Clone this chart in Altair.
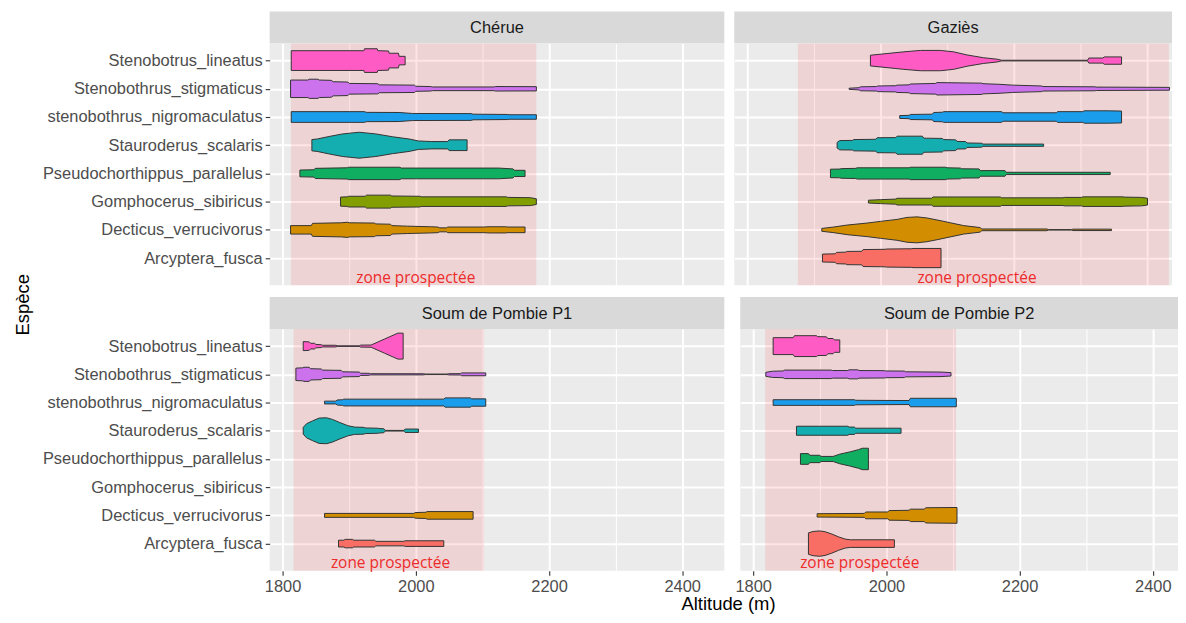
import altair as alt
import pandas as pd

# ---------------- data ----------------
SPECIES = [
    "Stenobotrus_lineatus",
    "Stenobothrus_stigmaticus",
    "stenobothrus_nigromaculatus",
    "Stauroderus_scalaris",
    "Pseudochorthippus_parallelus",
    "Gomphocerus_sibiricus",
    "Decticus_verrucivorus",
    "Arcyptera_fusca",
]
COLORS = ["#FF5BC4", "#CB72EC", "#1A9EEC", "#14AEB0", "#10AE60", "#839E00", "#D38D00", "#F86D64"]

SITES = ["Chérue", "Gaziès", "Soum de Pombie P1", "Soum de Pombie P2"]
ZONE_LO = [1812.5, 1876, 1816.5, 1818]
ZONE_HI = [2181, 2433, 2102.5, 2104.5]
LABEL_X = [2000, 2145, 1962, 1960]
LABEL_Y = 0.3
X_GRID = [1800, 1900, 2000, 2100, 2200, 2300, 2400]

# violin profiles: (altitude, half-width in category units)
CHERUE = {
    "Stenobotrus_lineatus": [(1813, .35), (1922, .35), (1923, .42), (1942, .42), (1943, .35), (1959, .34), (1960, .26), (1974, .26), (1975, .15), (1984, .15)],
    "Stenobothrus_stigmaticus": [(1812, .31), (1838, .31), (1840, .34), (1853, .34), (1855, .31), (1873, .3), (1876, .25), (1898, .24), (1900, .19), (1943, .18), (1945, .14), (1998, .13), (2000, .09), (2022, .08), (2025, .065), (2117, .065), (2120, .08), (2181, .075)],
    "stenobothrus_nigromaculatus": [(1813, .19), (1923, .19), (1926, .165), (1975, .16), (1995, .125), (2083, .12), (2086, .1), (2138, .09), (2140, .08), (2181, .08)],
    "Stauroderus_scalaris": [(1844, .2), (1852, .22), (1870, .31), (1890, .4), (1915, .46), (1940, .4), (1965, .3), (1990, .22), (2004, .15), (2024, .13), (2048, .13), (2050, .19), (2077, .19)],
    "Pseudochorthippus_parallelus": [(1826, .12), (1847, .13), (1849, .18), (1897, .2), (1899, .22), (1976, .22), (1978, .19), (2124, .19), (2146, .16), (2148, .11), (2164, .11)],
    "Gomphocerus_sibiricus": [(1887, .16), (1897, .17), (1899, .19), (1924, .19), (1926, .23), (1962, .23), (1964, .2), (2006, .19), (2008, .17), (2136, .17), (2138, .15), (2172, .14), (2181, .1)],
    "Decticus_verrucivorus": [(1812, .15), (1843, .15), (1845, .23), (1888, .25), (1898, .27), (1900, .25), (1938, .24), (1940, .21), (1962, .2), (1964, .15), (1988, .13), (2022, .11), (2033, .1), (2036, .07), (2046, .07), (2048, .1), (2102, .1), (2110, .11), (2135, .11), (2137, .1), (2164, .1)],
}
GAZIES = {
    "Stenobotrus_lineatus": [(1985, .19), (2010, .25), (2035, .31), (2060, .36), (2090, .36), (2110, .31), (2130, .2), (2155, .1), (2175, .05), (2182, .012), (2311, .012), (2313, .09), (2334, .09), (2336, .13), (2362, .13)],
    "Stenobothrus_stigmaticus": [(1953, .02), (1968, .04), (1970, .07), (1994, .08), (1996, .1), (2023, .11), (2025, .13), (2043, .14), (2045, .17), (2083, .19), (2085, .22), (2152, .2), (2154, .18), (2178, .16), (2198, .13), (2242, .1), (2244, .08), (2322, .07), (2324, .06), (2434, .05)],
    "stenobothrus_nigromaculatus": [(2029, .05), (2043, .06), (2045, .09), (2078, .1), (2080, .16), (2093, .17), (2095, .19), (2182, .19), (2184, .15), (2264, .15), (2266, .19), (2304, .19), (2306, .22), (2342, .22), (2362, .21)],
    "Stauroderus_scalaris": [(1935, .1), (1939, .165), (1958, .17), (1960, .2), (1993, .21), (1995, .265), (2023, .27), (2025, .32), (2063, .32), (2065, .25), (2093, .24), (2095, .2), (2113, .19), (2115, .135), (2128, .13), (2130, .08), (2152, .07), (2154, .04), (2245, .04)],
    "Pseudochorthippus_parallelus": [(1925, .15), (1939, .155), (1941, .17), (1963, .18), (1965, .2), (2043, .2), (2045, .22), (2098, .22), (2100, .2), (2120, .19), (2122, .165), (2148, .16), (2150, .1), (2187, .1), (2189, .04), (2345, .04)],
    "Gomphocerus_sibiricus": [(1982, .05), (2000, .07), (2023, .09), (2025, .12), (2077, .12), (2079, .165), (2180, .165), (2182, .135), (2274, .135), (2276, .15), (2302, .15), (2304, .17), (2364, .17), (2366, .16), (2392, .15), (2401, .12)],
    "Decticus_verrucivorus": [(1912, .05), (1930, .1), (1950, .17), (1980, .24), (2000, .3), (2025, .37), (2040, .44), (2055, .46), (2070, .42), (2085, .35), (2105, .25), (2125, .15), (2150, .08), (2152, .03), (2250, .03), (2252, .008), (2287, .008), (2289, .025), (2347, .025)],
    "Arcyptera_fusca": [(1913, .14), (1932, .15), (1934, .2), (1948, .21), (1950, .235), (1972, .24), (1974, .3), (2007, .31), (2009, .32), (2047, .33), (2049, .34), (2091, .34)],
}
POMBIE_P1 = {
    "Stenobotrus_lineatus": [(1831, .16), (1840, .15), (1842, .1), (1848, .1), (1850, .06), (1858, .05), (1860, .03), (1880, .03), (1882, .01), (1915, .01), (1917, .035), (1933, .04), (1953, .25), (1973, .46), (1981, .46)],
    "Stenobothrus_stigmaticus": [(1820, .22), (1830, .23), (1832, .25), (1840, .25), (1842, .2), (1858, .19), (1860, .15), (1888, .14), (1890, .09), (1915, .08), (1917, .04), (1930, .035), (1932, .022), (2012, .02), (2014, .01), (2047, .01), (2049, .022), (2067, .025), (2069, .05), (2105, .05)],
    "stenobothrus_nigromaculatus": [(1863, .05), (1880, .05), (1882, .09), (1890, .1), (1892, .12), (2042, .12), (2044, .165), (2082, .165), (2084, .13), (2105, .13)],
    "Stauroderus_scalaris": [(1831, .12), (1836, .25), (1845, .35), (1855, .45), (1866, .46), (1875, .4), (1885, .3), (1898, .18), (1908, .13), (1922, .12), (1924, .1), (1943, .09), (1945, .08), (1952, .07), (1954, .012), (1982, .012), (1984, .06), (2004, .06)],
    "Decticus_verrucivorus": [(1863, .07), (1997, .07), (1999, .1), (2015, .11), (2017, .135), (2086, .135)],
    "Arcyptera_fusca": [(1884, .12), (1892, .12), (1894, .15), (1905, .15), (1907, .12), (1938, .12), (1940, .08), (1982, .08), (1984, .1), (2042, .1)],
}
POMBIE_P2 = {
    "Stenobotrus_lineatus": [(1830, .3), (1860, .3), (1862, .37), (1895, .37), (1897, .335), (1910, .33), (1912, .27), (1920, .27), (1922, .22), (1930, .22)],
    "Stenobothrus_stigmaticus": [(1819, .07), (1829, .11), (1845, .12), (1847, .15), (1917, .15), (1919, .135), (1942, .135), (1944, .16), (1957, .16), (1959, .135), (1997, .13), (1999, .12), (2027, .115), (2029, .09), (2082, .08), (2097, .06)],
    "stenobothrus_nigromaculatus": [(1830, .1), (1952, .1), (1954, .08), (2034, .07), (2036, .15), (2105, .15)],
    "Stauroderus_scalaris": [(1865, .16), (1942, .16), (1944, .13), (1952, .13), (1954, .09), (2022, .09)],
    "Pseudochorthippus_parallelus": [(1871, .19), (1883, .19), (1885, .13), (1900, .13), (1902, .09), (1920, .09), (1930, .17), (1945, .25), (1958, .33), (1964, .38), (1973, .38)],
    "Decticus_verrucivorus": [(1896, .06), (1967, .07), (1969, .12), (2002, .12), (2004, .17), (2034, .18), (2036, .22), (2057, .22), (2059, .27), (2106, .28)],
    "Arcyptera_fusca": [(1883, .38), (1890, .43), (1900, .45), (1908, .42), (1918, .34), (1928, .24), (1938, .16), (1946, .135), (2012, .135)],
}
PROFILES = [CHERUE, GAZIES, POMBIE_P1, POMBIE_P2]

# ---------------- layout / style ----------------
PX_PER_M = 0.6695
X_MIN = 1780.6
W_LEFT, W_RIGHT = 457, 440
X_MAX_LEFT = X_MIN + W_LEFT / PX_PER_M
X_MAX_RIGHT = X_MIN + W_RIGHT / PX_PER_M
Y_MIN, Y_MAX = 0.04, 8.61
H = 243
HEADER_H = 32
FONT = "Liberation Sans"

POS = {s: len(SPECIES) - k for k, s in enumerate(SPECIES)}
LABEL_JS = "[" + ",".join(["''"] + ["'%s'" % s for s in reversed(SPECIES)]) + "]"
MAJOR = "datum.value % 200 === 0"


def panel(i, width, xmax, show_y, show_x):
    rows = []
    for sp, prof in PROFILES[i].items():
        for a, h in prof:
            rows.append({"species": sp, "alt": a, "hi": POS[sp] + h, "lo": POS[sp] - h})
    df = pd.DataFrame(rows)
    xs = alt.Scale(domain=[X_MIN, xmax], nice=False, zero=False)
    ys = alt.Scale(domain=[Y_MIN, Y_MAX], nice=False, zero=False)
    xaxis = alt.Axis(
        values=X_GRID, title=None, format="d", labels=show_x, ticks=show_x,
        labelExpr=f"{MAJOR} ? datum.label : ''",
        tickOpacity={"condition": {"test": MAJOR, "value": 1}, "value": 0},
        gridWidth={"condition": {"test": MAJOR, "value": 2}, "value": 1},
        domain=False,
    )
    yaxis = alt.Axis(
        values=list(range(1, 9)), title=None, labels=show_y, ticks=show_y,
        labelExpr=f"{LABEL_JS}[datum.value]", gridWidth=2, domain=False,
    )
    zone = alt.Chart(pd.DataFrame({"lo": [ZONE_LO[i]], "hi": [ZONE_HI[i]]})).mark_rect(
        color="red", opacity=0.1
    ).encode(
        x=alt.X("lo:Q", scale=xs, axis=xaxis), x2="hi:Q",
        y=alt.value(0), y2=alt.value(H),
    )
    areas = alt.Chart(df).mark_area(
        orient="vertical", interpolate="linear", stroke="#333333", strokeWidth=1,
        fillOpacity=1, strokeJoin="miter",
    ).encode(
        x=alt.X("alt:Q", scale=xs, axis=xaxis),
        y=alt.Y("hi:Q", scale=ys, axis=yaxis),
        y2="lo:Q",
        color=alt.Color("species:N", scale=alt.Scale(domain=SPECIES, range=COLORS), legend=None),
        detail="species:N",
    )
    txt = alt.Chart(pd.DataFrame({"x": [LABEL_X[i]], "y": [LABEL_Y], "t": ["zone prospectée"]})).mark_text(
        font="Open Sans", fontSize=15.5, color="#EE2B2B", baseline="middle", align="center"
    ).encode(
        x=alt.X("x:Q", scale=xs, axis=xaxis),
        y=alt.Y("y:Q", scale=ys, axis=yaxis),
        text="t:N",
    )
    return alt.layer(zone, areas, txt).properties(width=width, height=H)


def header(i, width):
    return alt.Chart(pd.DataFrame({"t": [SITES[i]]})).mark_text(
        font=FONT, fontSize=16.5, color="#1A1A1A", baseline="middle", align="center"
    ).encode(
        text="t:N", x=alt.value(width / 2), y=alt.value(HEADER_H / 2 + 1)
    ).properties(width=width, height=HEADER_H, view=alt.ViewBackground(fill="#D9D9D9", strokeWidth=0))


tl = alt.vconcat(header(0, W_LEFT), panel(0, W_LEFT, X_MAX_LEFT, True, False), spacing=0)
tr = alt.vconcat(header(1, W_RIGHT), panel(1, W_RIGHT, X_MAX_RIGHT, False, False), spacing=0)
bl = alt.vconcat(header(2, W_LEFT), panel(2, W_LEFT, X_MAX_LEFT, True, True), spacing=0)
br = alt.vconcat(header(3, W_RIGHT), panel(3, W_RIGHT, X_MAX_RIGHT, False, True), spacing=0)

top = alt.hconcat(tl, tr, spacing=10)
bottom = alt.hconcat(
    bl, br, spacing=10,
    title=alt.TitleParams("Altitude (m)", orient="bottom", anchor="middle", dx=119, offset=1,
                          fontSize=18.5, font=FONT, fontWeight="normal", color="black"),
)
chart = alt.vconcat(
    top, bottom, spacing=10,
    title=alt.TitleParams("Espèce", orient="left", anchor="middle", offset=10, dx=8,
                          fontSize=18.5, font=FONT, fontWeight="normal", color="black"),
).properties(
    padding={"left": 5, "top": 2, "right": 0, "bottom": 0}
).configure_view(
    fill="#EBEBEB", strokeWidth=0
).configure_axis(
    labelFont=FONT, labelFontSize=16.5, labelColor="#4D4D4D", tickColor="#333333",
    tickSize=4.5, tickWidth=1.1, gridColor="white", gridOpacity=1, labelPadding=3,
    minExtent=0, maxExtent=400, labelLimit=400,
).configure_title(font=FONT)

chart.save("out.html", embed_options={"renderer": "svg", "actions": False})
